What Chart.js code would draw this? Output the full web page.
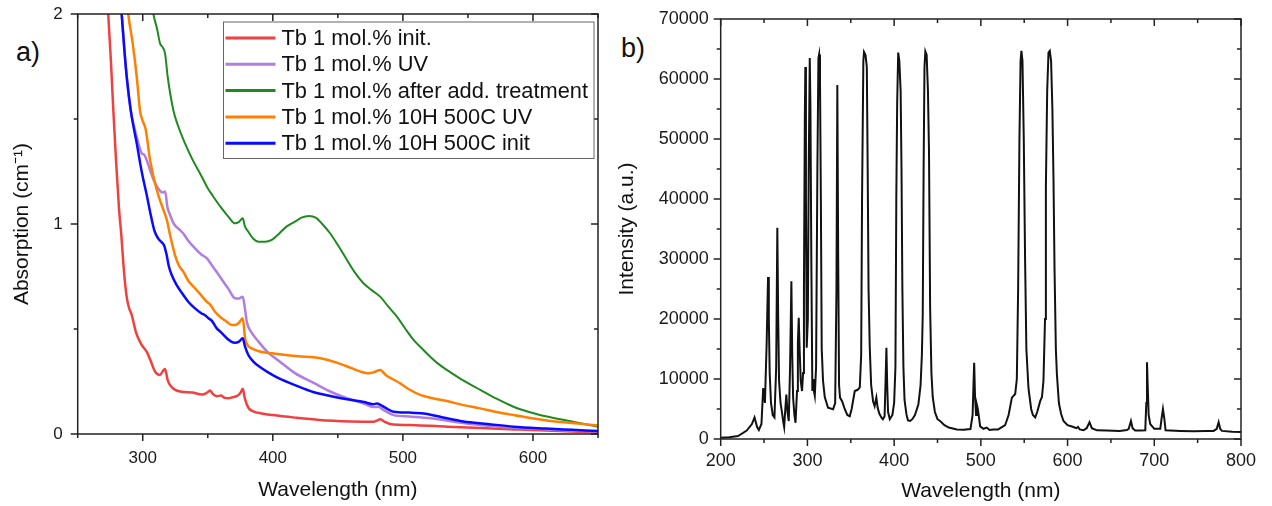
<!DOCTYPE html>
<html>
<head>
<meta charset="utf-8">
<script src="https://cdn.jsdelivr.net/npm/chart.js@4/dist/chart.umd.min.js"></script>
<style>
  body { margin: 0; background: #fff; width: 1272px; height: 506px; position: relative; overflow: hidden; }
  canvas { position: absolute; top: 0; }
  .tag { position: absolute; font: 27px "Liberation Sans", Arial, sans-serif; line-height: 1; color: #111; }
</style>
</head>
<body>
<div class="tag" style="left:16px; top:39px;">a)</div>
<div class="tag" style="left:621px; top:35px;">b)</div>
<canvas id="absChart" width="610" height="506" style="left:0"></canvas>
<canvas id="lampChart" width="662" height="506" style="left:610px"></canvas>
<script>
// ---- panel a: absorption spectra ----
const absLabels = ['Tb 1 mol.% init.', 'Tb 1 mol.% UV', 'Tb 1 mol.% after add. treatment',
                   'Tb 1 mol.% 10H 500C UV', 'Tb 1 mol.% 10H 500C init'];
const absColors = ['#f04040', '#b07ee0', '#1f8a1f', '#ff7f00', '#0a0aff'];

const redWl  = [271.5, 273.5, 275.5, 277.4, 279.5, 281.8, 283.5, 285, 286.4, 288, 289.5, 291.5, 295, 299.2, 303, 306, 309.5, 313.3, 315.5, 317.2, 319, 321, 325, 330, 338, 345.4, 349, 351.8, 354, 357, 360, 363, 366, 369, 372.3, 375, 376.9, 378.5, 381.2, 385, 391.5, 400, 417, 436, 460, 477, 480, 482.7, 486, 490, 510, 534, 560, 585, 620, 650];
const redAbs = [2.3, 2.0, 1.78, 1.54, 1.3, 1.07, 0.95, 0.82, 0.72, 0.64, 0.6, 0.567, 0.48, 0.424, 0.392, 0.35, 0.297, 0.281, 0.3, 0.31, 0.26, 0.233, 0.21, 0.201, 0.198, 0.188, 0.195, 0.207, 0.19, 0.18, 0.183, 0.172, 0.17, 0.175, 0.18, 0.195, 0.215, 0.17, 0.125, 0.108, 0.098, 0.09, 0.078, 0.067, 0.06, 0.058, 0.064, 0.07, 0.058, 0.048, 0.042, 0.035, 0.028, 0.022, 0.014, 0.008];

const purpleWl  = [282.5, 283.8, 287.7, 290.8, 293.5, 296, 299.2, 301, 303, 306, 309.5, 313, 315.5, 317.2, 319, 321, 324, 328.7, 331.2, 335, 340.2, 345, 349.2, 353, 357, 362, 366, 371, 374, 376.9, 378.5, 380, 384, 389, 396, 404.3, 417, 431, 445, 457, 470, 478, 481, 485, 492.8, 505, 521, 540, 559.5, 585, 610.8, 630, 650];
const purpleAbs = [2.1, 2.0, 1.70, 1.54, 1.46, 1.4, 1.337, 1.33, 1.305, 1.25, 1.194, 1.16, 1.15, 1.155, 1.08, 1.043, 1.0, 0.971, 0.955, 0.92, 0.884, 0.855, 0.837, 0.805, 0.77, 0.725, 0.69, 0.646, 0.645, 0.654, 0.6, 0.535, 0.48, 0.44, 0.39, 0.35, 0.29, 0.245, 0.2, 0.17, 0.145, 0.128, 0.13, 0.115, 0.09, 0.083, 0.075, 0.058, 0.043, 0.03, 0.022, 0.016, 0.012];

const greenWl  = [306, 308.2, 311, 313.3, 315.5, 317.2, 319.2, 323.5, 327, 332.5, 338, 345.4, 350, 354.3, 360, 365.8, 371, 374, 376.9, 378.5, 381.2, 385, 389, 394, 399.2, 405, 410, 417, 422, 428, 433, 438, 444, 450, 457, 463, 469.7, 476, 482.5, 489, 495.4, 502, 508.2, 515, 521, 527, 533.8, 545, 559.5, 572, 585, 597, 610.8, 625, 636.4, 650];
const greenAbs = [2.1, 2.0, 1.93, 1.86, 1.84, 1.81, 1.70, 1.543, 1.47, 1.384, 1.31, 1.225, 1.17, 1.13, 1.08, 1.035, 1.003, 1.01, 1.027, 0.99, 0.963, 0.93, 0.916, 0.915, 0.924, 0.955, 0.985, 1.011, 1.03, 1.038, 1.03, 1.0, 0.956, 0.9, 0.829, 0.77, 0.718, 0.685, 0.654, 0.605, 0.559, 0.5, 0.448, 0.405, 0.368, 0.335, 0.305, 0.26, 0.21, 0.168, 0.13, 0.105, 0.083, 0.065, 0.051, 0.035];

const orangeWl  = [287.5, 288.9, 292.3, 295.4, 297.9, 300, 302.3, 305.6, 310.8, 315.9, 318.5, 321, 324.8, 328, 331.2, 335, 340.2, 345, 349.2, 352, 355.6, 360, 364.6, 368, 371, 374, 376.9, 378.7, 381, 383.8, 390, 399.2, 410, 420, 431.2, 440, 449.2, 460, 468, 473.5, 478, 482.5, 487, 492, 497.9, 505, 513.3, 523, 533.8, 545, 559.5, 572, 585, 597, 610.8, 630, 650];
const orangeAbs = [2.1, 2.0, 1.86, 1.70, 1.54, 1.49, 1.45, 1.305, 1.162, 1.067, 1.02, 0.948, 0.852, 0.8, 0.773, 0.73, 0.694, 0.66, 0.63, 0.615, 0.582, 0.555, 0.535, 0.52, 0.519, 0.53, 0.551, 0.456, 0.42, 0.408, 0.393, 0.384, 0.376, 0.37, 0.365, 0.356, 0.34, 0.315, 0.296, 0.289, 0.295, 0.305, 0.28, 0.262, 0.241, 0.212, 0.186, 0.17, 0.157, 0.14, 0.122, 0.105, 0.09, 0.077, 0.064, 0.052, 0.041];

const blueWl  = [282.5, 283.8, 286, 287.7, 290.8, 293, 295.4, 298, 300, 303, 305.6, 308.9, 312, 315, 316.3, 318.4, 320, 322.3, 326, 331.2, 335, 340.2, 345, 348, 350.5, 353, 356.9, 360, 364.6, 368, 371, 374, 376.9, 378.5, 381.2, 385, 391.5, 400, 405.6, 417, 431, 445, 457, 470, 477, 480, 483, 488, 492.8, 505, 515.9, 530, 546.6, 565, 585, 610, 630, 650];
const blueAbs = [2.1, 2.0, 1.82, 1.70, 1.54, 1.46, 1.384, 1.29, 1.225, 1.14, 1.06, 0.97, 0.93, 0.91, 0.9, 0.852, 0.8, 0.757, 0.71, 0.662, 0.63, 0.598, 0.575, 0.565, 0.551, 0.54, 0.503, 0.485, 0.456, 0.44, 0.435, 0.44, 0.456, 0.42, 0.376, 0.345, 0.313, 0.28, 0.262, 0.233, 0.2, 0.18, 0.165, 0.152, 0.142, 0.145, 0.138, 0.12, 0.106, 0.102, 0.098, 0.08, 0.06, 0.048, 0.035, 0.026, 0.02, 0.014];

// ---- panel b: lamp emission ----
const lampWl = [200, 210, 220, 230, 236, 239, 242, 244, 247, 249, 251, 253, 254.6, 255.5, 256.5, 258, 260, 262, 264, 265.3, 266.3, 267.3, 269, 270.5, 272, 273.2, 274.5, 275.7, 277, 278.5, 280, 281.5, 282.5, 283.5, 285, 286.3, 288, 289, 290, 291, 292.3, 293.8, 295, 296, 297, 297.6, 298.3, 299.2, 300.5, 301.5, 302.7, 303.5, 304.5, 305.7, 306.5, 307.5, 308.5, 310, 311.5, 312.7, 313.5, 314.5, 315.5, 316.5, 318, 320, 323.8, 329.6, 332, 333.5, 334.5, 335.5, 336.5, 337.6, 340, 343, 346, 348.8, 351, 354.6, 358, 360.4, 362, 363, 364.5, 365.3, 367, 368.5, 369.5, 370.5, 371.9, 373.5, 375.7, 377.5, 379.5, 381, 383, 385.3, 387, 389, 390, 391.1, 392, 393, 395, 398, 400, 401.5, 402.5, 403.5, 404.7, 406, 407.5, 408.5, 409.5, 410.7, 412, 414.2, 416, 418.4, 421, 424, 428, 430.5, 432, 433, 434, 435, 436, 437.5, 439, 440.2, 441.5, 443, 444.5, 447, 450, 453, 458, 463, 472.3, 480, 488, 490.5, 491.5, 492.3, 493.3, 494.5, 495.4, 496.5, 497.5, 499.2, 503, 506.8, 510, 514.5, 520, 528, 532, 535.8, 539.6, 541.5, 543, 544.5, 545.8, 546.8, 548, 549.5, 551, 552.5, 554.9, 558, 560, 562.7, 565, 568.4, 570.5, 572.2, 574, 575, 576.5, 578, 579.5, 581, 582.5, 583.8, 585, 586.5, 587.7, 590, 592.5, 595.3, 600, 606.8, 610, 612, 614, 618.4, 622, 625.3, 628, 633.8, 645, 660, 668.4, 670.5, 673.1, 675, 678, 685, 689.6, 690.8, 691.6, 692.4, 693.5, 695.3, 700, 706.9, 708.5, 710, 711.5, 713, 730, 745, 760, 768.4, 772, 774.2, 776, 778, 790, 800];
const lampInt = [200, 300, 500, 1400, 2500, 3600, 2000, 1500, 2500, 8500, 6000, 16000, 27000, 20000, 11000, 6000, 4000, 3600, 12000, 35200, 20000, 9700, 6000, 4600, 3000, 2000, 5000, 7400, 4500, 3000, 12000, 26300, 14000, 6900, 4000, 2700, 8000, 16000, 20200, 15000, 9700, 8000, 11000, 25000, 53000, 62000, 40000, 15200, 20000, 45000, 63500, 55000, 30000, 8000, 10000, 8000, 7200, 12000, 45000, 63500, 64100, 60000, 40000, 15000, 9700, 7000, 5200, 4950, 6000, 25000, 59000, 30000, 9000, 6900, 6300, 5000, 4000, 3800, 5000, 8000, 8200, 8600, 14000, 40000, 63000, 64500, 64000, 62000, 45000, 25000, 15200, 9000, 6300, 5500, 6900, 5200, 4200, 3600, 3300, 3800, 9000, 15200, 9000, 4500, 3300, 4000, 6000, 12000, 40000, 56000, 64400, 63000, 58000, 45000, 25000, 12000, 6500, 4100, 3100, 3000, 3300, 4000, 5800, 9000, 14000, 20800, 45000, 62000, 64600, 64000, 58000, 48000, 22000, 11000, 7000, 4500, 3300, 3000, 2300, 1900, 1600, 1550, 1650, 4000, 9000, 12700, 7000, 4000, 5700, 5000, 4000, 2100, 1700, 1900, 1500, 1600, 1600, 2300, 4000, 6900, 7500, 10000, 25000, 50000, 63000, 64700, 63000, 50000, 30000, 15000, 8500, 5000, 4000, 3600, 4500, 6300, 7000, 9700, 20000, 42000, 58000, 64400, 64700, 63000, 55000, 43000, 28000, 15000, 10800, 6000, 4200, 3000, 2300, 2000, 1800, 2000, 1600, 1450, 1800, 2800, 1800, 1450, 1400, 1350, 1500, 1700, 3000, 1800, 1400, 1400, 1450, 6000, 12800, 9000, 4000, 2500, 1700, 1700, 3500, 5000, 3500, 1450, 1350, 1300, 1350, 1350, 1700, 2800, 1700, 1350, 1200, 1150];

const FONT = '"Liberation Sans", Arial, sans-serif';
Chart.defaults.font.family = FONT;
Chart.defaults.color = '#1a1a1a';

function zip(xs, ys) {
    return xs.map((x, i) => ({ x: x, y: ys[i] }));
}

// box with ticks on all four sides: out on bottom/left, in on top/right
const framePlugin = {
    id: 'frame',
    afterDatasetsDraw(chart) {
        const { ctx, chartArea: a, scales } = chart;
        const major = 7, minor = 4;
        ctx.save();
        ctx.strokeStyle = '#222';
        ctx.lineWidth = 1.5;
        ctx.beginPath();
        scales.x.ticks.forEach(t => {
            const px = scales.x.getPixelForValue(t.value);
            const len = t.label !== '' ? major : minor;
            ctx.moveTo(px, a.bottom); ctx.lineTo(px, a.bottom + len);
            ctx.moveTo(px, a.top); ctx.lineTo(px, a.top + len);
        });
        scales.y.ticks.forEach(t => {
            const py = scales.y.getPixelForValue(t.value);
            const len = t.label !== '' ? major : minor;
            ctx.moveTo(a.left - len, py); ctx.lineTo(a.left, py);
            ctx.moveTo(a.right - len, py); ctx.lineTo(a.right, py);
        });
        ctx.stroke();
        ctx.strokeRect(a.left, a.top, a.right - a.left, a.bottom - a.top);
        ctx.restore();
    }
};

// framed legend in the upper right corner of the plot
const boxLegend = {
    id: 'boxLegend',
    afterDraw(chart) {
        const { ctx, chartArea: a } = chart;
        const sets = chart.data.datasets;
        ctx.save();
        ctx.font = '21.8px ' + FONT;
        const textW = Math.max(...sets.map(d => ctx.measureText(d.label).width));
        const rowH = 26.3, sample = 50;
        const w = 2 + sample + 6 + textW + 6;
        const h = rowH * sets.length + 5;
        const x0 = a.right - 4 - w, y0 = a.top + 8;
        ctx.fillStyle = '#fff';
        ctx.fillRect(x0, y0, w, h);
        ctx.strokeStyle = '#666';
        ctx.lineWidth = 1;
        ctx.strokeRect(x0, y0, w, h);
        sets.forEach((d, i) => {
            const cy = y0 + 16 + i * rowH;
            ctx.strokeStyle = d.borderColor;
            ctx.lineWidth = 3;
            ctx.beginPath();
            ctx.moveTo(x0 + 2, cy);
            ctx.lineTo(x0 + 2 + sample, cy);
            ctx.stroke();
            ctx.fillStyle = '#111';
            ctx.textBaseline = 'middle';
            ctx.fillText(d.label, x0 + sample + 8, cy + 1);
        });
        ctx.restore();
    }
};

// the label gap goes into the (hidden) tick length, so ticks.padding stays 0
// and does not push the chart area in
function axis(opts) {
    return {
        type: 'linear',
        min: opts.min,
        max: opts.max,
        grid: { display: false, drawTicks: true, tickLength: opts.gap },
        border: { display: false },
        ticks: {
            stepSize: opts.step,
            autoSkip: false,
            padding: 0,
            font: { size: opts.size },
            color: '#1a1a1a',
            callback: v => (Math.abs(v / opts.major - Math.round(v / opts.major)) < 1e-6 ? String(v) : '')
        },
        title: { display: true, text: opts.title, font: { size: 21 }, color: '#111', padding: opts.titlePad },
        afterFit: opts.fit
    };
}

const absSeries = [[redWl, redAbs], [purpleWl, purpleAbs], [greenWl, greenAbs], [orangeWl, orangeAbs], [blueWl, blueAbs]];

new Chart(document.getElementById('absChart'), {
    type: 'line',
    data: {
        datasets: absSeries.map((s, i) => ({
            label: absLabels[i],
            data: zip(s[0], s[1]),
            borderColor: absColors[i],
            borderWidth: i === 2 ? 2 : 2.5,
            pointRadius: 0,
            cubicInterpolationMode: 'monotone',
            order: 5 - i
        }))
    },
    options: {
        responsive: false,
        animation: false,
        layout: { padding: { top: 14, right: 12, left: 0, bottom: 0 } },
        plugins: { legend: { display: false }, tooltip: { enabled: false } },
        scales: {
            x: axis({ min: 250, max: 650, step: 50, major: 100, gap: 14, size: 17,
                      title: 'Wavelength (nm)', titlePad: { top: 0, bottom: 3 },
                      fit: s => { s.height = 72; } }),
            y: axis({ min: 0, max: 2, step: 0.5, major: 1, gap: 15, size: 17,
                      title: 'Absorption (cm\u207B\u00B9)', titlePad: { top: 10, bottom: 0 },
                      fit: s => { s.width = 77.7; } })
        }
    },
    plugins: [framePlugin, boxLegend]
});

new Chart(document.getElementById('lampChart'), {
    type: 'line',
    data: {
        datasets: [{
            label: 'Intensity',
            data: zip(lampWl, lampInt),
            borderColor: '#111',
            borderWidth: 2,
            pointRadius: 0,
            tension: 0
        }]
    },
    options: {
        responsive: false,
        animation: false,
        layout: { padding: { top: 19, right: 31, left: 0, bottom: 0 } },
        plugins: { legend: { display: false }, tooltip: { enabled: false } },
        scales: {
            x: axis({ min: 200, max: 800, step: 50, major: 100, gap: 11, size: 18,
                      title: 'Wavelength (nm)', titlePad: { top: 0, bottom: 2 },
                      fit: s => { s.height = 67; } }),
            y: axis({ min: 0, max: 70000, step: 5000, major: 10000, gap: 12, size: 18,
                      title: 'Intensity (a.u.)', titlePad: { top: 5, bottom: 0 },
                      fit: s => { s.width = 110.7; } })
        }
    },
    plugins: [framePlugin]
});
</script>
</body>
</html>
